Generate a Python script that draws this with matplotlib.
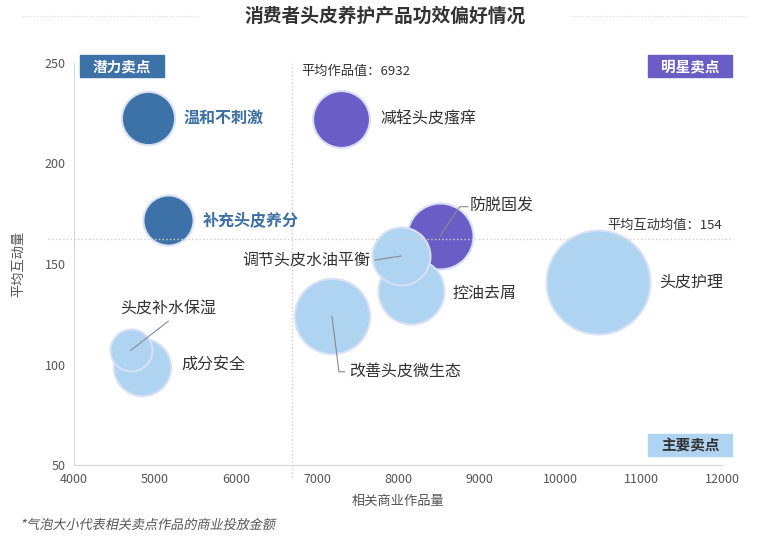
import matplotlib
matplotlib.use('Agg')
import matplotlib.pyplot as plt
from matplotlib.lines import Line2D
from matplotlib.textpath import TextPath
from matplotlib.patches import PathPatch
from matplotlib.font_manager import FontProperties
from matplotlib.transforms import Affine2D

plt.rcParams['font.family'] = ['Noto Sans CJK SC', 'DejaVu Sans']

# 数据：卖点、商业作品量、平均互动量、商业投放金额(相对值)
names = ['温和不刺激', '补充头皮养分', '减轻头皮瘙痒', '防脱固发', '调节头皮水油平衡',
         '控油去屑', '头皮护理', '改善头皮微生态', '头皮补水保湿', '成分安全']
works = [4910, 5160, 7300, 8520, 8040, 8160, 10470, 7185, 4700, 4840]
inter = [222.5, 172, 222, 164, 154, 136.5, 141, 124, 107, 99]
spend = [71, 63, 81, 109, 84, 109, 270, 142, 44, 82]
group = ['潜力', '潜力', '明星', '明星', '主要', '主要', '主要', '主要', '主要', '主要']

avg_works_label = 6932
avg_inter_label = 154
# 参考线在图上的实际位置
line_x = 6690
line_y = 162.5

colors = {'潜力': '#3d72a8', '明星': '#6a5ec6', '主要': '#aed4f2'}
txt_col = {'潜力': '#3d6fa5', '明星': '#333333', '主要': '#333333'}

# 标签偏移(points)
label_off = {
    '温和不刺激': (26, 0), '补充头皮养分': (25, 0), '减轻头皮瘙痒': (28, 0),
    '防脱固发': (21, 22), '调节头皮水油平衡': (-22, -3), '控油去屑': (30, -2),
    '头皮护理': (44, 0), '改善头皮微生态': (12, -40), '头皮补水保湿': (27, 30),
    '成分安全': (28, 1),
}

fig = plt.figure(figsize=(7.59, 5.37), dpi=100)
ax = fig.add_axes([74/759, 1-465/537, 648/759, 402/537])
ax.set_xlim(4000, 12000)
ax.set_ylim(50, 250)

order = sorted(range(len(names)), key=lambda i: -spend[i])
for i in order:
    ax.scatter(works[i], inter[i], s=spend[i]*20.7, color=colors[group[i]],
               edgecolor='#d8e0f6', linewidth=1.5, zorder=3)

for i, n in enumerate(names):
    dx, dy = label_off[n]
    bold = group[i] == '潜力'
    ha = 'left'
    if n == '调节头皮水油平衡':
        ha = 'right'
    elif n == '头皮补水保湿':
        ha = 'center'
    ax.annotate(n, (works[i], inter[i]), xytext=(dx, dy), textcoords='offset points',
                ha=ha, va='center', fontsize=11.5, color=txt_col[group[i]],
                fontweight='bold' if bold else 'normal', zorder=6)

# 引线
def seg(i, pts):
    x0, y0 = ax.transData.transform((works[i], inter[i]))
    xs, ys = [], []
    for px, py in pts:
        xd, yd = ax.transData.inverted().transform((x0 + px/0.72, y0 + py/0.72))
        xs.append(xd); ys.append(yd)
    ax.plot(xs, ys, color='#8a8a8a', lw=0.8, zorder=5)

k = names.index('防脱固发'); seg(k, [(0, 0), (14, 21), (20, 21)])
k = names.index('调节头皮水油平衡'); seg(k, [(0, 0), (-19, -3)])
k = names.index('改善头皮微生态'); seg(k, [(0, 0), (5, -40), (9, -40)])
k = names.index('头皮补水保湿'); seg(k, [(0, 0), (27, 21)])

# 平均线
ax.axvline(line_x, ymin=-0.03, ymax=1.0, color='#cfcfcf', lw=1, ls=':', zorder=4, clip_on=False)
ax.plot([3680, 12140], [line_y, line_y], color='#cfcfcf', lw=1, ls=':', zorder=4, clip_on=False)
ax.text(line_x + 120, 246, '平均作品值：%d' % avg_works_label, fontsize=9.5, color='#333333',
        va='center', ha='left')
ax.text(12000, 169, '平均互动均值：%d' % avg_inter_label, fontsize=9.5, color='#333333',
        va='center', ha='right')

# 轴样式
for s in ['top', 'right']:
    ax.spines[s].set_visible(False)
for s in ['left', 'bottom']:
    ax.spines[s].set_color('#d9d9d9')
ax.tick_params(length=0, labelsize=9, colors='#555555', pad=6)
ax.set_xticks(range(4000, 12001, 1000))
ax.set_yticks([50, 100, 150, 200, 250])
ax.set_xlabel('相关商业作品量', fontsize=9.5, color='#555555', labelpad=6)
ax.set_ylabel('平均互动量', fontsize=9.5, color='#555555', labelpad=14)

# 象限标签
def qbox(x0, y0, text, fc, tc):
    fig.patches.append(plt.Rectangle((x0/759, 1-(y0+22)/537), 84/759, 22/537,
                                     transform=fig.transFigure, color=fc, zorder=5))
    fig.text((x0+42)/759, 1-(y0+11)/537, text, ha='center', va='center',
             fontsize=10.5, fontweight='bold', color=tc, zorder=7)

qbox(80, 55, '潜力卖点', '#3d72a8', 'white')
qbox(648, 55, '明星卖点', '#6a5ec6', 'white')
qbox(648, 434, '主要卖点', '#aed4f2', '#333333')

# 标题
fig.text(385/759, 1-16/537, '消费者头皮养护产品功效偏好情况', ha='center', va='center',
         fontsize=13.5, fontweight='bold', color='#333333')
fig.add_artist(Line2D([22/759, 198/759], [1-16/537, 1-16/537], color='#d9d9d9', lw=0.8, ls=':'))
fig.add_artist(Line2D([571/759, 747/759], [1-16/537, 1-16/537], color='#d9d9d9', lw=0.8, ls=':'))

# 斜体脚注 (CJK 字体无斜体，用倾斜路径)
fp = FontProperties(family='Noto Sans CJK SC', size=13.1)
tp = TextPath((0, 0), '*气泡大小代表相关卖点作品的商业投放金额', prop=fp)
tr = Affine2D().skew_deg(12, 0).translate(20, 537 - 529)
fig.add_artist(PathPatch(tr.transform_path(tp), transform=None, color='#555555', lw=0))

fig.savefig('out.png', dpi=100)
